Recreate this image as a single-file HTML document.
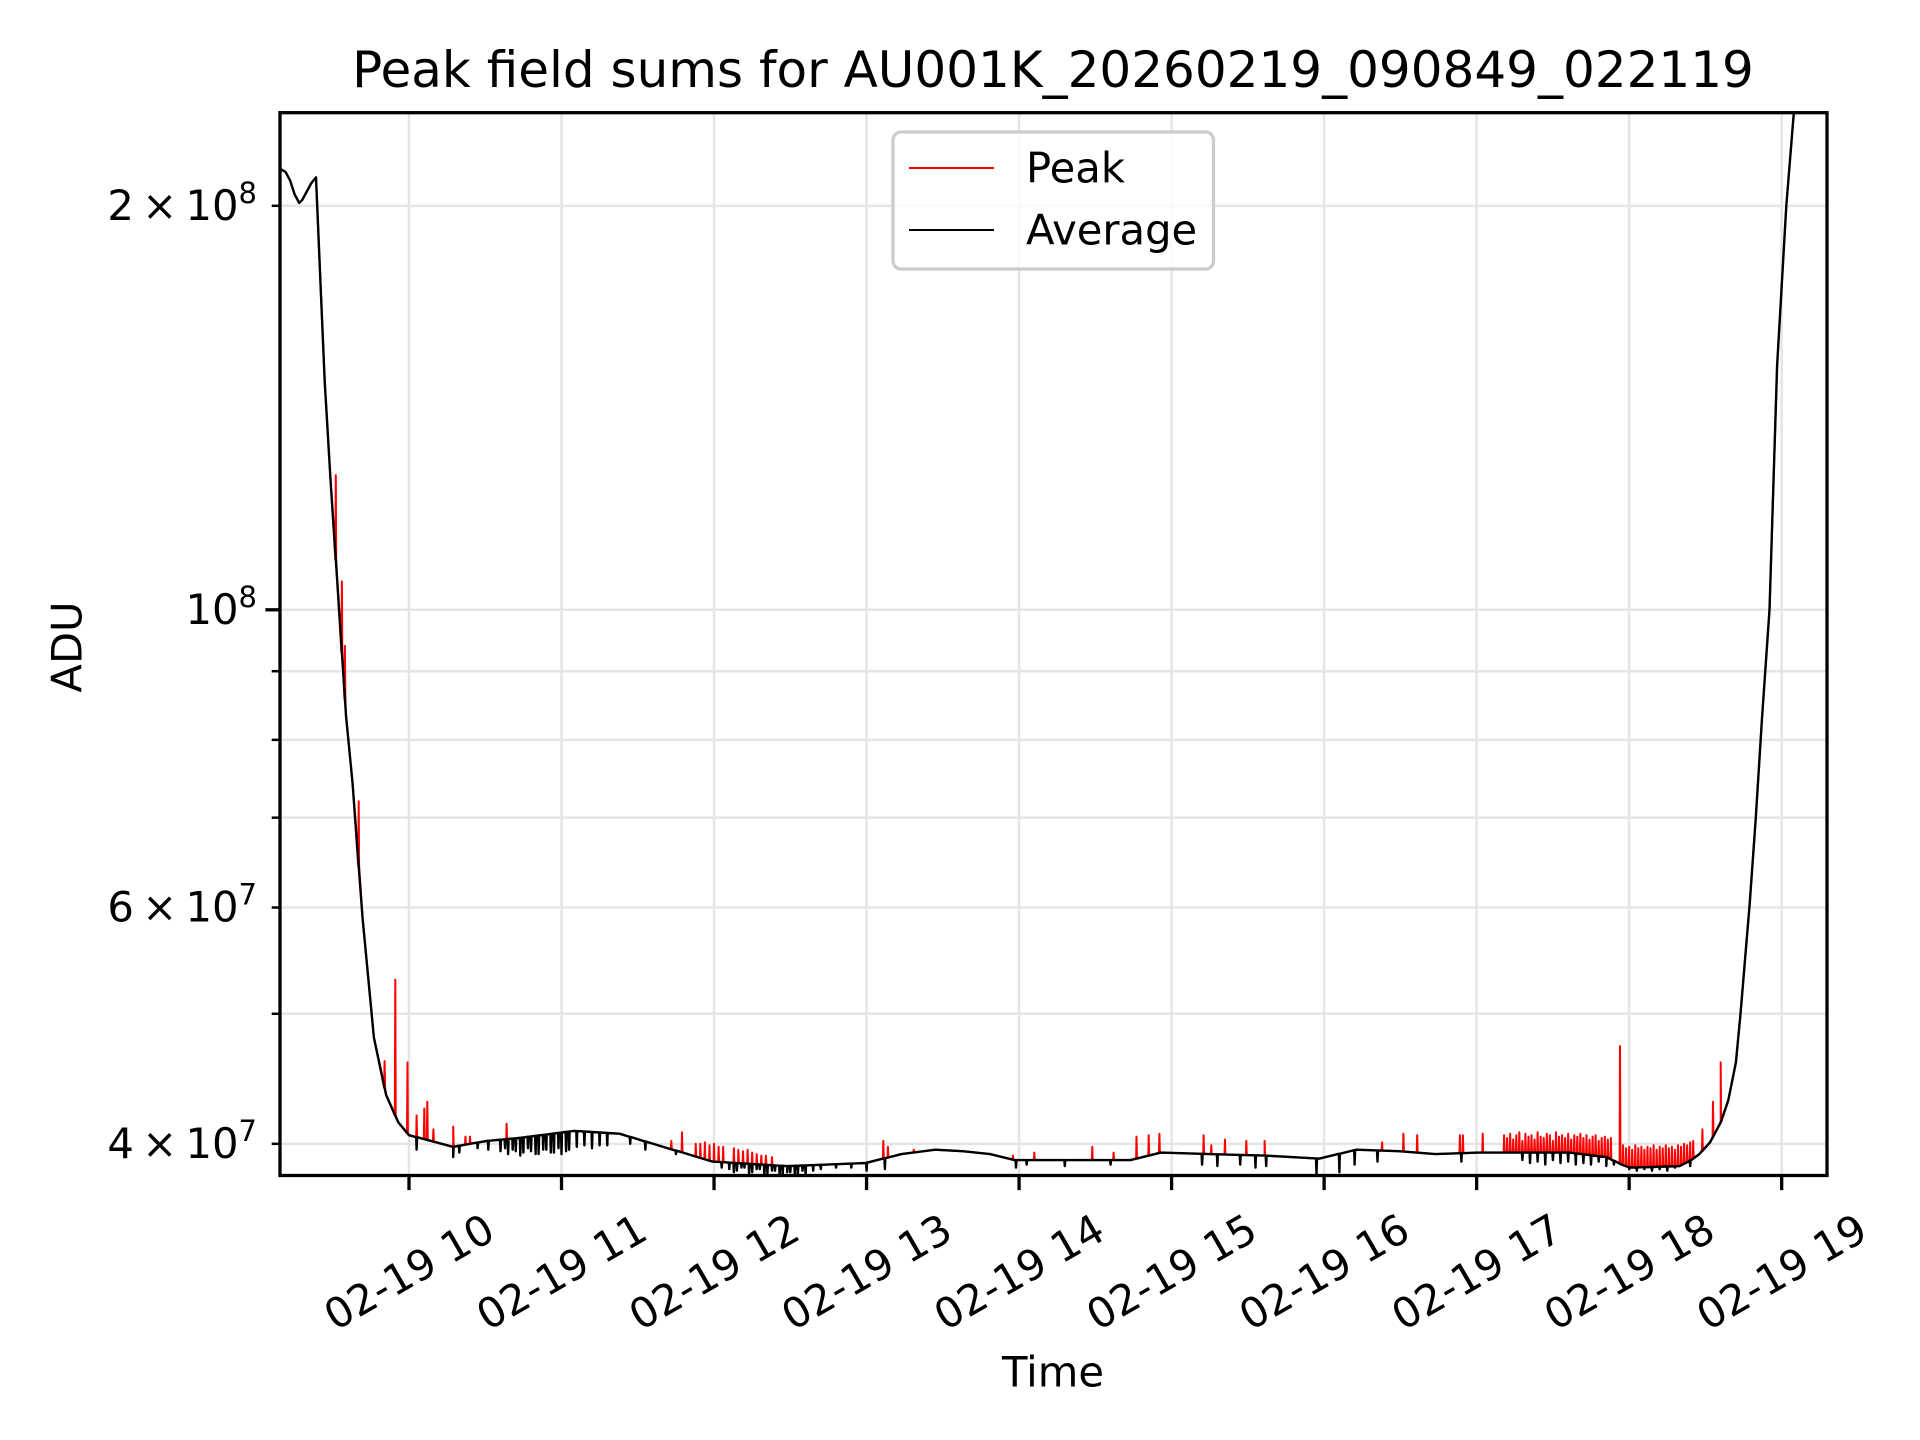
<!DOCTYPE html>
<html><head><meta charset="utf-8"><style>
html,body{margin:0;padding:0;background:#fff;}
svg{display:block;font-family:"DejaVu Sans","Liberation Sans",sans-serif;}
</style></head><body>
<svg id="chart" width="1920" height="1440" viewBox="0 0 1920 1440" xmlns="http://www.w3.org/2000/svg">
<rect width="1920" height="1440" fill="#fff"/>
<defs><clipPath id="ac"><rect x="280" y="112.7" width="1547" height="1062.8"/></clipPath></defs>
<text x="1053" y="87" font-size="50" text-anchor="middle">Peak field sums for AU001K_20260219_090849_022119</text>
<g id="grid"></g>
<g id="series" clip-path="url(#ac)"></g>
<rect x="280" y="112.7" width="1547" height="1062.8" fill="none" stroke="#000" stroke-width="3.3"/>
<g id="ticks"></g>
<text transform="translate(67,647) rotate(-90)" font-size="41.7" text-anchor="middle" dominant-baseline="central">ADU</text>
<text x="1053" y="1372" font-size="41.7" text-anchor="middle" dominant-baseline="central">Time</text>
<g>
<rect x="893" y="132" width="320.5" height="137" rx="8" fill="#fff" fill-opacity="0.8" stroke="#ccc" stroke-width="3.3"/>
<line x1="909" y1="168" x2="994" y2="168" stroke="#f00" stroke-width="2"/>
<text x="1026" y="168" font-size="41.7" dominant-baseline="central">Peak</text>
<line x1="909" y1="230" x2="994" y2="230" stroke="#000" stroke-width="2"/>
<text x="1026" y="230" font-size="41.7" dominant-baseline="central">Average</text>
</g>
</svg>
<script>
// ---- data (hours of day, values in units of 1e7 ADU) ----
const baseTimes = [9.157,9.19,9.22,9.25,9.28,9.30,9.33,9.36,9.39,9.42,9.447,9.487,9.527,9.587,9.63,9.695,9.77,9.85,9.93,10.0,10.29,10.51,10.72,11.08,11.38,11.57,11.99,12.48,12.99,13.23,13.45,13.63,13.81,13.97,14.73,14.93,15.61,15.97,16.21,16.49,16.73,17.01,17.61,17.85,17.95,18.01,18.33,18.39,18.46,18.53,18.60,18.65,18.70,18.73,18.79,18.83,18.87,18.92,18.97,19.03,19.08,19.12];
const baseValues = [21.3,21.2,20.9,20.4,20.1,20.2,20.5,20.8,21.0,17.5,14.8,12.4,10.6,8.34,7.42,5.9,4.8,4.35,4.15,4.06,3.98,4.02,4.04,4.09,4.07,4.01,3.88,3.85,3.87,3.93,3.96,3.95,3.93,3.89,3.89,3.94,3.92,3.90,3.96,3.95,3.93,3.94,3.94,3.91,3.86,3.84,3.85,3.88,3.93,4.01,4.15,4.31,4.6,5.0,6.04,7.0,8.28,10.0,15.2,20.0,23.5,24.5];
const peakTimes = [9.52,9.56,9.58,9.67,9.84,9.91,9.99,10.05,10.10,10.12,10.16,10.29,10.37,10.40,10.64,11.72,11.79,11.88,11.91,11.94,11.97,12.00,12.03,12.06,12.13,12.16,12.19,12.22,12.25,12.28,12.31,12.34,12.38,13.11,13.14,13.31,13.38,13.96,14.10,14.48,14.62,14.77,14.85,14.92,15.21,15.26,15.35,15.49,15.61,16.38,16.52,16.61,16.89,16.91,17.04,
17.18,17.20,17.22,17.24,17.26,17.28,17.30,17.32,17.34,17.36,17.38,17.40,17.42,17.44,17.46,17.48,17.50,17.52,17.54,17.56,17.58,17.60,17.62,17.64,17.66,17.68,17.70,17.72,17.74,17.76,17.78,17.80,17.82,17.84,17.86,17.88,17.94,
17.96,17.98,18.00,18.02,18.04,18.06,18.08,18.10,18.12,18.14,18.16,18.18,18.20,18.22,18.24,18.26,18.28,18.30,18.32,18.34,18.36,18.38,18.40,18.42,18.48,18.55,18.6];
const peakValues = [12.6,10.5,9.4,7.2,4.61,5.3,4.6,4.2,4.25,4.3,4.1,4.12,4.05,4.05,4.14,4.02,4.08,4.0,4.0,4.01,3.99,4.0,3.98,3.98,3.97,3.96,3.95,3.96,3.94,3.93,3.92,3.92,3.91,4.02,3.98,3.96,3.95,3.92,3.94,3.98,3.94,4.05,4.06,4.07,4.06,3.99,4.03,4.02,4.02,4.01,4.07,4.06,4.06,4.06,4.07,
4.06,4.04,4.07,4.03,4.06,4.08,4.02,4.07,4.05,4.06,4.03,4.08,4.05,4.04,4.07,4.06,4.02,4.08,4.05,4.06,4.04,4.07,4.03,4.06,4.05,4.07,4.04,4.06,4.03,4.05,4.06,4.02,4.04,4.05,4.03,4.04,4.73,
3.99,3.97,3.98,3.96,3.99,3.97,3.98,3.96,3.98,3.97,3.99,3.96,3.98,3.97,3.99,3.97,3.98,3.96,3.99,3.98,4.0,3.99,4.01,4.02,4.1,4.3,4.6];
const avgTimes = [10.05,10.29,10.33,10.45,10.52,10.6,10.63,10.65,10.68,10.7,10.73,10.75,10.78,10.8,10.83,10.85,10.88,10.9,10.93,10.95,10.98,11.0,11.03,11.05,11.1,11.15,11.2,11.25,11.3,11.45,11.55,11.75,12.05,12.1,12.13,12.15,12.18,12.2,12.23,12.25,12.28,12.3,12.33,12.35,12.38,12.4,12.43,12.45,12.48,12.5,12.53,12.55,12.58,12.6,12.65,12.7,12.8,12.9,13.0,13.12,13.98,14.05,14.3,14.6,15.2,15.3,15.45,15.55,15.62,15.95,16.1,16.2,16.35,16.9,17.3,17.35,17.4,17.45,17.5,17.55,17.6,17.65,17.7,17.75,17.8,17.85,17.9,18.0,18.05,18.1,18.15,18.2,18.25,18.3,18.4];
const avgValues = [3.96,3.91,3.94,3.97,3.96,3.95,3.97,3.93,3.96,3.95,3.92,3.94,3.97,3.95,3.93,3.93,3.96,3.96,3.94,3.94,3.97,3.93,3.95,3.96,3.98,3.99,3.97,3.99,3.99,4.0,3.96,3.93,3.84,3.83,3.81,3.82,3.84,3.84,3.80,3.81,3.83,3.83,3.79,3.80,3.82,3.82,3.78,3.79,3.81,3.81,3.79,3.80,3.82,3.79,3.82,3.83,3.84,3.84,3.82,3.83,3.84,3.86,3.85,3.86,3.86,3.85,3.86,3.84,3.85,3.80,3.81,3.86,3.88,3.88,3.89,3.87,3.88,3.86,3.89,3.87,3.88,3.86,3.87,3.86,3.88,3.85,3.86,3.83,3.82,3.83,3.82,3.83,3.82,3.84,3.85];
const xTickHours = [10,11,12,13,14,15,16,17,18,19];
const xTickLabels = ["02-19 10","02-19 11","02-19 12","02-19 13","02-19 14","02-19 15","02-19 16","02-19 17","02-19 18","02-19 19"];
const yLabelVals = [20,10,6,4];
const yLabelMant = ["2","","6","4"];
const yLabelExp = ["8","8","7","7"];
const yMinorVals = [30,9,8,7,5,3];

// ---- axes ----
const NS="http://www.w3.org/2000/svg";
const L=280,R=1827,T=112.7,B=1175.5;
function xs(h){return 409+(h-10)*152.52;}
function ys(v){return 609.8-(Math.log10(v*1e7)-8)*1342;}
function mk(tag,attrs,parent){const e=document.createElementNS(NS,tag);for(const k in attrs)e.setAttribute(k,attrs[k]);parent.appendChild(e);return e;}
const grid=document.getElementById('grid'),ticks=document.getElementById('ticks'),series=document.getElementById('series');

xTickHours.forEach((h,i)=>{
  const x=xs(h);
  const g=mk('line',{x1:x,y1:T,x2:x,y2:B,stroke:'#e5e5e5','stroke-width':2.5},grid);
  
  
  const t=mk('line',{x1:x,y1:B,x2:x,y2:B+14.6,stroke:'#000','stroke-width':3.3},ticks);
  
  
  const lb=mk('text',{transform:`translate(${x},1272) rotate(-30)`,'font-size':41.7,'text-anchor':'middle','dominant-baseline':'central'},ticks);
  lb.textContent=xTickLabels[i];
  
  
});
yLabelVals.concat(yMinorVals).forEach((v,i)=>{
  const y=ys(v); if(y<T||y>B) return;
  const g=mk('line',{x1:L,y1:y,x2:R,y2:y,stroke:'#e5e5e5','stroke-width':2.5},grid);
  
  
  const major=(v===10);
  const t=mk('line',{x1:L-(major?14.6:8.3),y1:y,x2:L,y2:y,stroke:'#000','stroke-width':major?3.3:2.5},ticks);
  
  
});
yLabelVals.forEach((v,i)=>{
  const y=ys(v);
  const lb=mk('text',{x:257,y:y+14,'font-size':41.7,'text-anchor':'end'},ticks);
  
  
  lb.textContent=(yLabelMant[i]?yLabelMant[i]+'\u2009×\u200910':'10');
  const sp=mk('tspan',{dy:-17,'font-size':29},lb);
  sp.textContent=yLabelExp[i];
});

function base(t){
  if(t<=baseTimes[0])return baseValues[0];
  for(let i=1;i<baseTimes.length;i++){if(t<=baseTimes[i]){const f=(t-baseTimes[i-1])/(baseTimes[i]-baseTimes[i-1]);return Math.pow(10,Math.log10(baseValues[i-1])*(1-f)+Math.log10(baseValues[i])*f);}}
  return baseValues[baseValues.length-1];
}
function build(times,vals){
  let pts=baseTimes.map((t,i)=>[t,baseValues[i]]);
  times.forEach((t,i)=>{const b=base(t);pts.push([t-0.003,b],[t,vals[i]],[t+0.003,b]);});
  pts.sort((a,b)=>a[0]-b[0]);
  return pts.map((p,i)=>(i?'L':'M')+xs(p[0]).toFixed(1)+','+ys(p[1]).toFixed(1)).join('');
}
const pk=mk('path',{d:build(peakTimes,peakValues),fill:'none',stroke:'#f00','stroke-width':2,'stroke-linejoin':'round'},series);


const av=mk('path',{d:build(avgTimes,avgValues),fill:'none',stroke:'#000','stroke-width':2.4,'stroke-linejoin':'round'},series);


</script>
</body></html>
